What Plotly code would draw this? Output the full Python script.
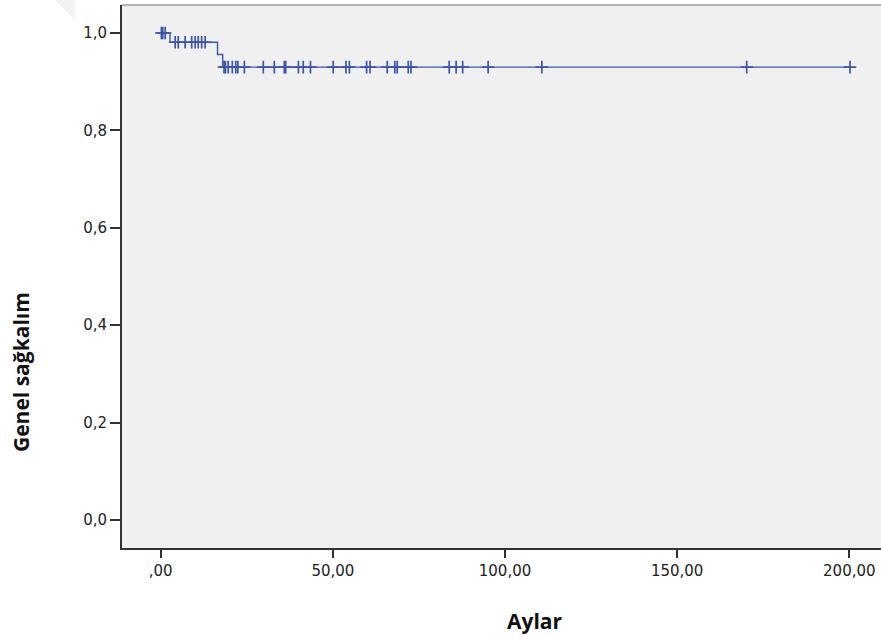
import plotly.graph_objects as go
import numpy as np

# Kaplan-Meier step curve (event times and survival levels)
event_times = [0.0, 2.7, 16.5, 18.0]
survival = [1.0, 0.981, 0.956, 0.93]
end_time = 200.2

# Censored observation times
censor_times = [0.2, 0.6, 1.3,
                4.2, 5.1, 7.1, 9.0, 10.0, 10.9, 11.9, 12.9,
                18.4, 18.8, 19.6, 20.8, 21.8, 22.4, 24.3, 29.8, 33.0, 35.9, 36.3,
                40.0, 41.4, 43.5, 50.1, 53.8, 54.8, 59.8, 60.8, 65.8, 68.0, 68.7,
                71.9, 72.7, 83.8, 85.8, 87.7, 95.1, 110.7, 170.2, 200.2]

x_ticks = [0, 50, 100, 150, 200]
x_tick_labels = [",00", "50,00", "100,00", "150,00", "200,00"]
y_ticks = [0.0, 0.2, 0.4, 0.6, 0.8, 1.0]
y_tick_labels = ["0,0", "0,2", "0,4", "0,6", "0,8", "1,0"]

line_color = "#3c55ab"

step_x = event_times + [end_time]
step_y = survival + [survival[-1]]

def surv_at(t):
    idx = np.searchsorted(np.array(event_times), t, side="right") - 1
    return survival[max(idx, 0)]

censor_y = [surv_at(t) for t in censor_times]

fig = go.Figure()
fig.add_trace(go.Scatter(x=step_x, y=step_y, mode="lines",
                         line=dict(color=line_color, width=1.4, shape="hv"),
                         hoverinfo="skip", showlegend=False))
fig.add_trace(go.Scatter(x=censor_times, y=censor_y, mode="markers",
                         marker=dict(symbol="cross-thin", size=9,
                                     line=dict(color=line_color, width=1.7)),
                         showlegend=False))

W, H = 881, 639
L, R, T, B = 122, 0, 5, 91
pw = W - L - R
ph = H - T - B

def px(xp):
    return (xp - L) / pw

def py(yp):
    return (H - B - yp) / ph

fig.update_layout(
    width=W, height=H,
    margin=dict(l=L, r=R, t=T, b=B),
    paper_bgcolor="white",
    plot_bgcolor="#f0f0f0",
    font=dict(family="DejaVu Sans, Verdana, sans-serif", size=15, color="#222"),
    xaxis=dict(range=[-11.24, 209.2], tickvals=x_ticks, ticktext=x_tick_labels,
               showgrid=False, zeroline=False, showline=True, linecolor="#333",
               linewidth=2, ticks="outside", ticklen=8, tickwidth=2, tickcolor="#333"),
    yaxis=dict(range=[-0.0575, 1.0575], tickvals=y_ticks, ticktext=y_tick_labels,
               showgrid=False, zeroline=False, showline=True, linecolor="#333",
               linewidth=2, ticks="outside", ticklen=10, tickwidth=2, tickcolor="#333"),
    shapes=[
        dict(type="line", xref="paper", yref="paper", x0=0, x1=1, y0=1, y1=1,
             line=dict(color="#9a9a9a", width=1.5)),
        dict(type="path", xref="paper", yref="paper",
             path="M {:.4f},{:.4f} L {:.4f},{:.4f} L {:.4f},{:.4f} Z".format(
                 px(55), py(0), px(75), py(0), px(75), py(20)),
             fillcolor="#f2f2f2", line=dict(width=0), layer="below"),
    ],
    annotations=[
        dict(text="<b>Aylar</b>", xref="paper", yref="paper",
             x=px(535), y=py(621), xanchor="center", yanchor="middle", showarrow=False,
             font=dict(family="Open Sans, sans-serif", size=21, color="#111")),
        dict(text="<b>Genel sağkalım</b>", xref="paper", yref="paper",
             x=px(21), y=py(372), xanchor="center", yanchor="middle",
             showarrow=False, textangle=-90,
             font=dict(family="Open Sans, sans-serif", size=21, color="#111")),
    ],
)

fig.write_html("out.html")
